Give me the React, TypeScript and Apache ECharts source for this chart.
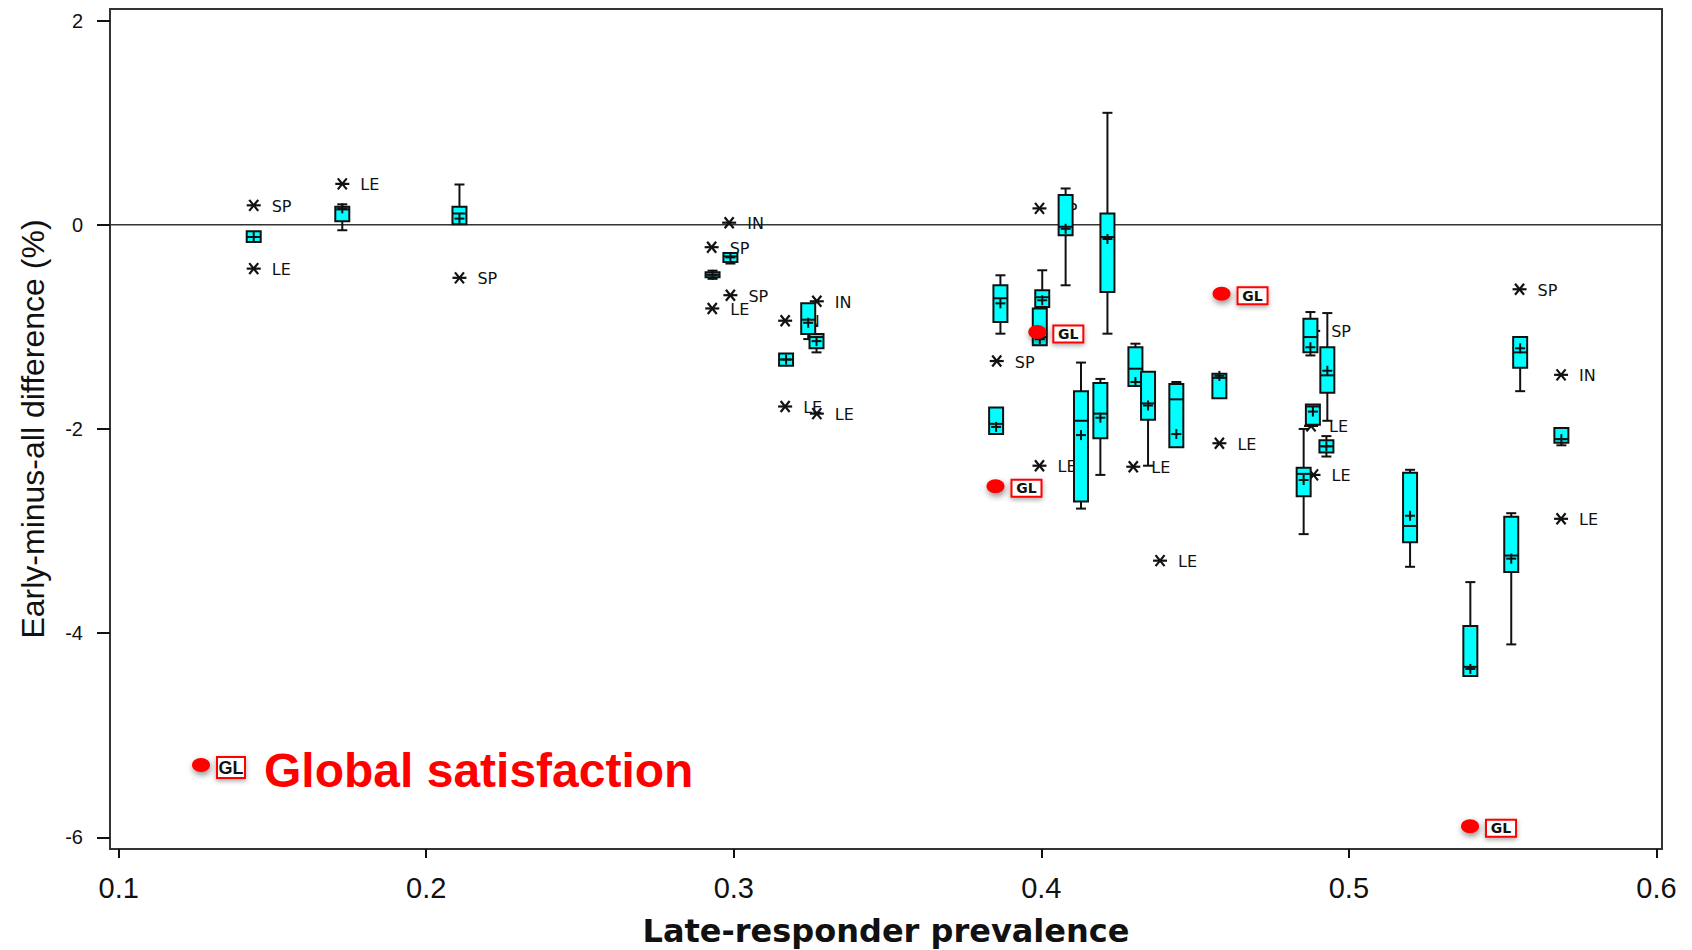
import React, { useEffect, useRef } from "react";
import * as echarts from "echarts";

// ---- Box plots (late-responder prevalence vs early-minus-all difference, %) ----
const boxX = [0.1439, 0.1727, 0.2108, 0.2931, 0.2989, 0.317, 0.3242, 0.3269, 0.3853, 0.3867, 0.3995, 0.4003, 0.4079, 0.4129, 0.4192, 0.4215, 0.4306, 0.4347, 0.4439, 0.4579, 0.4853, 0.4875, 0.4883, 0.4927, 0.493, 0.5199, 0.5395, 0.5528, 0.5557, 0.5691];
const boxLow = [-0.17, -0.054, 0.005, -0.53, -0.38, -1.38, -1.12, -1.25, -2.05, -1.067, -1.18, -0.806, -0.593, -2.78, -2.45, -1.067, -1.58, -2.36, -2.18, -1.7, -3.03, -1.28, -1.96, -2.27, -1.92, -3.35, -4.42, -4.11, -1.63, -2.16];
const boxQ1 = [-0.17, 0.034, 0.005, -0.515, -0.365, -1.38, -1.07, -1.21, -2.05, -0.953, -1.18, -0.806, -0.103, -2.71, -2.09, -0.66, -1.58, -1.91, -2.18, -1.7, -2.66, -1.25, -1.96, -2.23, -1.645, -3.11, -4.42, -3.4, -1.4, -2.135];
const boxMedian = [-0.12, 0.15, 0.11, -0.49, -0.31, -1.32, -0.93, -1.1, -1.95, -0.72, -1.1, -0.71, -0.02, -1.92, -1.85, -0.12, -1.41, -1.75, -1.71, -1.5, -2.44, -1.1, -1.78, -2.17, -1.475, -2.95, -4.33, -3.24, -1.25, -2.1];
const boxQ3 = [-0.065, 0.175, 0.175, -0.465, -0.276, -1.26, -0.77, -1.07, -1.79, -0.593, -0.82, -0.642, 0.29, -1.63, -1.55, 0.11, -1.2, -1.44, -1.56, -1.46, -2.38, -0.92, -1.76, -2.11, -1.2, -2.43, -3.93, -2.86, -1.1, -1.99];
const boxHigh = [-0.065, 0.2, 0.394, -0.45, -0.276, -1.26, -0.77, -1.07, -1.79, -0.495, -0.82, -0.446, 0.355, -1.35, -1.51, 1.096, -1.165, -1.43, -1.54, -1.46, -2.0, -0.855, -1.76, -2.07, -0.865, -2.4, -3.5, -2.825, -1.1, -1.99];
const boxMean = [-0.12, 0.16, 0.06, -0.49, -0.32, -1.32, -0.96, -1.14, -1.98, -0.77, -1.12, -0.74, -0.04, -2.06, -1.89, -0.14, -1.54, -1.77, -2.05, -1.48, -2.5, -1.2, -1.83, -2.17, -1.43, -2.85, -4.35, -3.27, -1.21, -2.1];

// ---- Single-item points (asterisks) ----
const starX = [0.1439, 0.1439, 0.1727, 0.2108, 0.2985, 0.2928, 0.2989, 0.293, 0.327, 0.3167, 0.3167, 0.327, 0.3994, 0.3855, 0.3994, 0.4299, 0.4386, 0.4579, 0.4884, 0.4877, 0.4885, 0.5555, 0.569, 0.569];
const starY = [0.19, -0.43, 0.4, -0.52, 0.02, -0.22, -0.69, -0.82, -0.75, -0.94, -1.78, -1.85, 0.16, -1.335, -2.36, -2.37, -3.29, -2.14, -1.04, -1.97, -2.45, -0.632, -1.47, -2.88];
const starLabel = ["SP", "LE", "LE", "SP", "IN", "SP", "SP", "LE", "IN", "IN", "LE", "LE", "SP", "SP", "LE", "LE", "LE", "LE", "SP", "LE", "LE", "SP", "IN", "LE"];

// ---- Global satisfaction (GL) points ----
const glX = [0.3987, 0.3851, 0.4586, 0.5394];
const glY = [-1.05, -2.56, -0.675, -5.89];

// ---- Axes ----
const xTicks = [0.1, 0.2, 0.3, 0.4, 0.5, 0.6];
const yTicks = [-6, -4, -2, 0, 2];
const xRange = [0.09717, 0.60182];
const yRange = [-6.1137, 2.1127];

const CYAN = "#00FFFF";
const INK = "#111111";

export default function App() {
  const ref = useRef<HTMLDivElement>(null);

  useEffect(() => {
    if (!ref.current) return;
    const chart = echarts.init(ref.current, null, { renderer: "svg" });

    const boxData = boxX.map((x, i) => [x, boxLow[i], boxQ1[i], boxMedian[i], boxQ3[i], boxHigh[i], boxMean[i]]);
    const starData = starX.map((x, i) => [x, starY[i]]);
    const glData = glX.map((x, i) => [x, glY[i]]);

    const boxRender = (params: any, api: any) => {
      const x = api.value(0);
      const lo = api.value(1), q1 = api.value(2), md = api.value(3), q3 = api.value(4), hi = api.value(5), mn = api.value(6);
      const pLo = api.coord([x, lo]);
      const pQ1 = api.coord([x, q1]);
      const pMd = api.coord([x, md]);
      const pQ3 = api.coord([x, q3]);
      const pHi = api.coord([x, hi]);
      const pMn = api.coord([x, mn]);
      const cx = pQ1[0];
      const hw = 7;
      const cap = 5;
      const ls = { stroke: INK, lineWidth: 2 };
      const children: any[] = [];
      if (hi - q3 > 0.012) {
        children.push({ type: "line", shape: { x1: cx, y1: pHi[1], x2: cx, y2: pQ3[1] }, style: ls });
        children.push({ type: "line", shape: { x1: cx - cap, y1: pHi[1], x2: cx + cap, y2: pHi[1] }, style: ls });
      }
      if (q1 - lo > 0.012) {
        children.push({ type: "line", shape: { x1: cx, y1: pQ1[1], x2: cx, y2: pLo[1] }, style: ls });
        children.push({ type: "line", shape: { x1: cx - cap, y1: pLo[1], x2: cx + cap, y2: pLo[1] }, style: ls });
      }
      children.push({
        type: "rect",
        shape: { x: cx - hw, y: pQ3[1], width: hw * 2, height: Math.max(pQ1[1] - pQ3[1], 1) },
        style: { fill: CYAN, stroke: INK, lineWidth: 2 },
      });
      children.push({ type: "line", shape: { x1: cx - hw, y1: pMd[1], x2: cx + hw, y2: pMd[1] }, style: ls });
      children.push({ type: "line", shape: { x1: cx - 5, y1: pMn[1], x2: cx + 5, y2: pMn[1] }, style: ls });
      children.push({ type: "line", shape: { x1: cx, y1: pMn[1] - 5, x2: cx, y2: pMn[1] + 5 }, style: ls });
      return { type: "group", children };
    };

    const starRender = (params: any, api: any) => {
      const p = api.coord([api.value(0), api.value(1)]);
      const [x, y] = p;
      const ls = { stroke: INK, lineWidth: 2.2 };
      const r = 7;
      const dx = 4.5, dy = 5.5;
      return {
        type: "group",
        children: [
          { type: "line", shape: { x1: x - r, y1: y, x2: x + r, y2: y }, style: ls },
          { type: "line", shape: { x1: x - dx, y1: y - dy, x2: x + dx, y2: y + dy }, style: ls },
          { type: "line", shape: { x1: x - dx, y1: y + dy, x2: x + dx, y2: y - dy }, style: ls },
          {
            type: "text",
            x: x + 18,
            y: y + 1,
            style: {
              text: starLabel[params.dataIndex],
              fill: INK,
              font: "16px 'DejaVu Sans'",
              verticalAlign: "middle",
              align: "left",
            },
          },
        ],
      };
    };

    const glRender = (params: any, api: any) => {
      const p = api.coord([api.value(0), api.value(1)]);
      const [x, y] = p;
      return {
        type: "group",
        children: [
          {
            type: "ellipse",
            shape: { cx: x, cy: y, rx: 9, ry: 7 },
            style: { fill: "#FF0000", shadowBlur: 6, shadowColor: "rgba(0,0,0,0.45)", shadowOffsetX: 1, shadowOffsetY: 3 },
          },
          {
            type: "rect",
            shape: { x: x + 16, y: y - 6.5, width: 30, height: 17 },
            style: { fill: "#FFFFFF", stroke: "#FF0000", lineWidth: 2, shadowBlur: 5, shadowColor: "rgba(0,0,0,0.35)", shadowOffsetY: 2 },
          },
          {
            type: "text",
            x: x + 31,
            y: y + 2,
            style: { text: "GL", fill: INK, font: "bold 14px 'DejaVu Sans'", align: "center", verticalAlign: "middle" },
          },
        ],
      };
    };

    const option: any = {
      animation: false,
      backgroundColor: "#FFFFFF",
      grid: {
        left: 110,
        right: 30,
        top: 9,
        bottom: 101,
        outerBoundsMode: "none",
        containLabel: false,
        show: true,
        borderColor: "#333333",
        borderWidth: 2,
        backgroundColor: "transparent",
      },
      xAxis: {
        type: "value",
        min: xRange[0],
        max: xRange[1],
        name: "Late-responder prevalence",
        nameLocation: "middle",
        nameGap: 66,
        nameTextStyle: { fontFamily: "DejaVu Sans", fontWeight: "bold", fontSize: 32, color: INK },
        axisLine: { show: false, onZero: false },
        splitLine: { show: false },
        axisTick: { show: true, customValues: xTicks, length: 9, lineStyle: { color: INK, width: 2 } },
        axisLabel: {
          customValues: xTicks,
          formatter: (v: number) => v.toFixed(1),
          fontFamily: "Liberation Sans",
          fontSize: 29,
          color: INK,
          margin: 24,
        },
      },
      yAxis: {
        type: "value",
        min: yRange[0],
        max: yRange[1],
        name: "Early-minus-all difference (%)",
        nameLocation: "middle",
        nameGap: 61,
        nameTextStyle: { fontFamily: "Liberation Sans", fontSize: 32, color: INK },
        axisLine: { show: false, onZero: false },
        splitLine: { show: false },
        axisTick: { show: true, customValues: yTicks, length: 13, lineStyle: { color: INK, width: 2 } },
        axisLabel: {
          customValues: yTicks,
          formatter: (v: number) => String(Math.round(v)),
          fontFamily: "Liberation Sans",
          fontSize: 20,
          color: INK,
          margin: 27,
        },
      },
      series: [
        {
          type: "line",
          z: 1,
          data: [[xRange[0], 0], [xRange[1], 0]],
          symbol: "none",
          lineStyle: { color: "#333333", width: 1.5 },
          silent: true,
        },
        {
          type: "custom",
          z: 2,
          renderItem: starRender,
          data: starData,
          encode: { x: 0, y: 1 },
          silent: true,
        },
        {
          type: "custom",
          z: 3,
          renderItem: boxRender,
          data: boxData,
          encode: { x: 0, y: [1, 2, 3, 4, 5, 6] },
          silent: true,
        },
        {
          type: "custom",
          z: 4,
          renderItem: glRender,
          data: glData,
          encode: { x: 0, y: 1 },
          silent: true,
        },
      ],
      graphic: [
        {
          type: "ellipse",
          shape: { cx: 201, cy: 765, rx: 9, ry: 7 },
          style: { fill: "#FF0000", shadowBlur: 6, shadowColor: "rgba(0,0,0,0.45)", shadowOffsetX: 1, shadowOffsetY: 3 },
          z: 10,
        },
        {
          type: "rect",
          shape: { x: 217, y: 757, width: 28, height: 21 },
          style: { fill: "#FFFFFF", stroke: "#FF0000", lineWidth: 2, shadowBlur: 5, shadowColor: "rgba(0,0,0,0.35)", shadowOffsetY: 2 },
          z: 10,
        },
        {
          type: "text",
          x: 231,
          y: 768,
          style: { text: "GL", fill: INK, font: "bold 18px 'Liberation Sans'", align: "center", verticalAlign: "middle" },
          z: 11,
        },
        {
          type: "text",
          x: 264,
          y: 770,
          style: { text: "Global satisfaction", fill: "#FF0000", font: "bold 48px 'Liberation Sans'", align: "left", verticalAlign: "middle" },
          z: 11,
        },
      ],
    };

    chart.setOption(option);
    return () => {
      chart.dispose();
    };
  }, []);

  return (
    <div
      ref={ref}
      style={{ position: "fixed", left: 0, top: 0, width: 1692, height: 950, background: "#FFFFFF" }}
    />
  );
}
